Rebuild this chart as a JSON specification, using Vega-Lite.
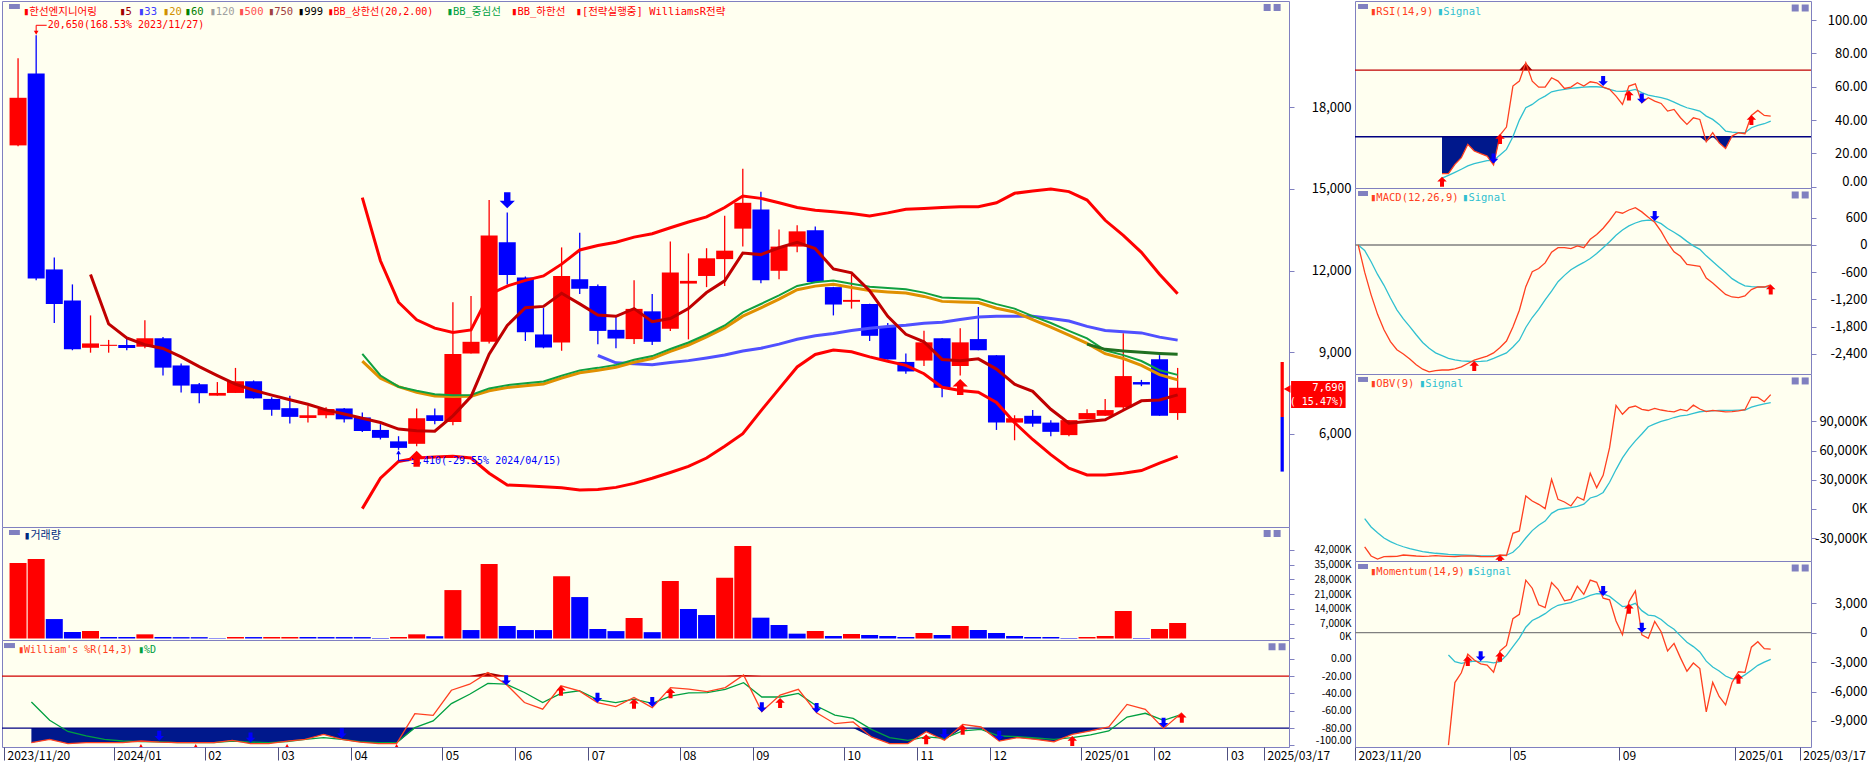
{
"$schema":"https://vega.github.io/schema/vega-lite/v6.json",
"background":"#ffffff",
"padding":0,
"config":{"view":{"fill":"#fffff0","stroke":"#8080c0","strokeWidth":1},"axis":{"titleOpacity":0,"domain":false,"grid":false}},
"datasets":{
"d":[
{"i":0,"o":16600,"h":19800,"l":16570,"c":18350,"dir":"up","v":35700,"vd":"up","macd":0,"ms":0},
{"i":1,"o":19240,"h":20650,"l":11640,"c":11710,"dir":"down","v":37600,"vd":"up","wr":-96.9,"wd":-50,"wf":-96.9,"wt":-20,"macd":-600,"ms":-120,"obv":-39000,"os":-10000},
{"i":2,"o":12040,"h":12480,"l":10070,"c":10770,"dir":"down","v":9200,"vd":"down","wr":-93.1,"wd":-71,"wf":-93.1,"wt":-20,"macd":-1100,"ms":-370,"obv":-48300,"os":-18500},
{"i":3,"o":10900,"h":11490,"l":9070,"c":9110,"dir":"down","v":3100,"vd":"down","wr":-98,"wd":-84,"wf":-98,"wt":-20,"macd":-1530,"ms":-650,"obv":-51500,"os":-24500},
{"i":4,"o":9160,"h":10350,"l":8980,"c":9320,"dir":"up","v":3550,"vd":"up","m5":11853,"wr":-96.9,"wd":-89,"wf":-96.9,"wt":-20,"macd":-1870,"ms":-890,"obv":-49000,"os":-29800},
{"i":5,"o":9230,"h":9450,"l":8980,"c":9270,"dir":"up","v":700,"vd":"down","m5":10037,"wr":-96.9,"wd":-93,"wf":-96.9,"wt":-20,"macd":-2130,"ms":-1170,"obv":-48800,"os":-33500},
{"i":6,"o":9260,"h":9510,"l":9070,"c":9150,"dir":"down","v":700,"vd":"down","m5":9525,"wr":-96.9,"wd":-95,"wf":-96.9,"wt":-20,"macd":-2310,"ms":-1430,"obv":-48600,"os":-36500},
{"i":7,"o":9200,"h":10170,"l":9140,"c":9510,"dir":"up","v":1970,"vd":"up","m5":9272,"wr":-95,"wd":-95.8,"wf":-95,"wt":-20,"macd":-2405,"ms":-1630,"obv":-47300,"os":-38800},
{"i":8,"o":9510,"h":9560,"l":8140,"c":8430,"dir":"down","v":700,"vd":"down","m5":9135,"wr":-96.2,"wd":-96,"wf":-96.2,"wt":-20,"macd":-2515,"ms":-1800,"obv":-47800,"os":-40800},
{"i":9,"o":8510,"h":8580,"l":7520,"c":7770,"dir":"down","v":650,"vd":"down","m5":8825,"wr":-96.9,"wd":-96.9,"wf":-96.9,"wt":-20,"macd":-2640,"ms":-1980,"obv":-48300,"os":-42300},
{"i":10,"o":7820,"h":7870,"l":7120,"c":7490,"dir":"down","v":640,"vd":"down","m5":8469,"wr":-96.9,"wd":-96.9,"wf":-96.9,"wt":-20,"macd":-2740,"ms":-2150,"obv":-48600,"os":-43700},
{"i":11,"o":7400,"h":7900,"l":7400,"c":7500,"dir":"up","v":200,"vd":"down","m5":8139,"wr":-96.9,"wd":-96.9,"wf":-96.9,"wt":-20,"macd":-2800,"ms":-2280,"obv":-48500,"os":-44700},
{"i":12,"o":7500,"h":8420,"l":7500,"c":7930,"dir":"up","v":700,"vd":"up","m5":7824,"wr":-94.2,"wd":-95,"wf":-94.2,"wt":-20,"macd":-2770,"ms":-2380,"obv":-48000,"os":-45500},
{"i":13,"o":7930,"h":7960,"l":7290,"c":7300,"dir":"down","v":680,"vd":"down","m5":7599,"wr":-98,"wd":-96.2,"wf":-98,"wt":-20,"rsi":7.8,"rs":5.2,"rf":7.8,"rt":70,"macd":-2758,"ms":-2440,"obv":-48400,"os":-46000},
{"i":14,"o":7280,"h":7340,"l":6660,"c":6880,"dir":"down","v":700,"vd":"up","m5":7420,"wr":-98,"wd":-96.9,"wf":-98,"wt":-20,"rsi":7.8,"rs":6.8,"rf":7.8,"rt":70,"macd":-2758,"ms":-2500,"obv":-48700,"os":-46600,"mom":-11470,"mos":-2276},
{"i":15,"o":6940,"h":7400,"l":6380,"c":6620,"dir":"down","v":720,"vd":"up","m5":7247,"wr":-95,"wd":-95.8,"wf":-95,"wt":-20,"rsi":13.4,"rs":8.6,"rf":13.4,"rt":70,"macd":-2735,"ms":-2535,"obv":-48900,"os":-47000,"mom":-5090,"mos":-2950},
{"i":16,"o":6580,"h":7030,"l":6410,"c":6680,"dir":"up","v":700,"vd":"down","m5":7083,"wr":-93.1,"wd":-93.1,"wf":-93.1,"wt":-20,"rsi":17.4,"rs":10.5,"rf":17.4,"rt":70,"macd":-2690,"ms":-2555,"obv":-48500,"os":-47300,"mom":-4090,"mos":-3120},
{"i":17,"o":6680,"h":6970,"l":6570,"c":6910,"dir":"up","v":690,"vd":"down","m5":6878,"wr":-87.3,"wd":-91,"wf":-87.3,"wt":-20,"rsi":25.4,"rs":12.5,"rf":25.4,"rt":70,"macd":-2615,"ms":-2565,"obv":-48100,"os":-47500,"mom":-2200,"mos":-3000},
{"i":18,"o":6930,"h":6950,"l":6410,"c":6530,"dir":"down","v":680,"vd":"down","m5":6724,"wr":-93.1,"wd":-93.1,"wf":-93.1,"wt":-20,"rsi":21.4,"rs":13.9,"rf":21.4,"rt":70,"macd":-2540,"ms":-2572,"obv":-48500,"os":-47800,"mom":-2790,"mos":-2900},
{"i":19,"o":6600,"h":6780,"l":6060,"c":6100,"dir":"down","v":670,"vd":"down","m5":6568,"m20":8667,"bb":8940,"bu":14678,"bl":3248,"wr":-96.2,"wd":-95.8,"wf":-96.2,"wt":-20,"rsi":19.8,"rs":14.8,"rf":19.8,"rt":70,"macd":-2495,"ms":-2566,"obv":-48800,"os":-48100,"mom":-3170,"mos":-2950},
{"i":20,"o":6140,"h":6350,"l":5790,"c":5850,"dir":"down","v":250,"vd":"down","m5":6414,"m20":8042,"bb":8142,"bu":12359,"bl":4364,"wr":-98,"wd":-96.9,"wf":-98,"wt":-20,"rsi":18.4,"rs":15.6,"rf":18.4,"rt":70,"macd":-2450,"ms":-2555,"obv":-48900,"os":-48300,"mom":-3300,"mos":-2980},
{"i":21,"o":5720,"h":5910,"l":5410,"c":5480,"dir":"down","v":700,"vd":"up","m5":6173,"m20":7730,"bb":7730,"bu":10835,"bl":4983,"wr":-98,"wd":-96.9,"wf":-98,"wt":-20,"rsi":13,"rs":15.8,"rf":13,"rt":70,"macd":-2380,"ms":-2500,"obv":-49000,"os":-48300,"mom":-4030,"mos":-3080},
{"i":22,"o":5630,"h":6930,"l":5540,"c":6570,"dir":"up","v":1970,"vd":"up","m5":6106,"m20":7520,"bb":7582,"bu":10190,"bl":5107,"wr":-63.4,"wd":-79.6,"wf":-80,"wt":-20,"rsi":31,"rs":19,"rf":30,"rt":70,"macd":-2260,"ms":-2440,"obv":-47300,"os":-48250,"mom":-1860,"mos":-2960},
{"i":23,"o":6680,"h":6930,"l":6350,"c":6470,"dir":"down","v":1100,"vd":"down","m5":6093,"m20":7388,"bb":7451,"bu":9880,"bl":5144,"wr":-65.3,"wd":-71.8,"wf":-80,"wt":-20,"rsi":35.8,"rs":22.4,"rf":30,"rt":70,"macd":-2120,"ms":-2380,"obv":-47800,"os":-47500,"mom":-1300,"mos":-2320},
{"i":24,"o":6430,"h":10830,"l":6310,"c":8930,"dir":"up","v":22900,"vd":"up","m5":6659,"m20":7368,"bb":7418,"bu":9719,"bl":5169,"wr":-36.4,"wd":-51.8,"wf":-80,"wt":-20,"rsi":60.4,"rs":30,"rf":30,"rt":70,"macd":-1810,"ms":-2250,"obv":-25000,"os":-44500,"mom":1440,"mos":-1420},
{"i":25,"o":8950,"h":11060,"l":8950,"c":9380,"dir":"up","v":4000,"vd":"down","m5":7365,"m20":7374,"bb":7424,"bu":9818,"bl":5107,"wr":-29.4,"wd":-41,"wf":-80,"wt":-20,"rsi":63.4,"rs":40,"rf":30,"rt":70,"macd":-1440,"ms":-2100,"obv":-22600,"os":-38200,"mom":1880,"mos":-550},
{"i":26,"o":9380,"h":14590,"l":9320,"c":13290,"dir":"up","v":35200,"vd":"up","m5":8928,"m20":7581,"bb":7667,"bu":11120,"bl":4549,"wr":-16,"wd":-28.5,"wf":-80,"wt":-16,"rsi":74.4,"rs":47.4,"rf":30,"rt":74.4,"macd":-920,"ms":-1820,"obv":13360,"os":-29800,"mom":5360,"mos":560},
{"i":27,"o":13040,"h":14130,"l":11490,"c":11840,"dir":"down","v":5900,"vd":"down","m5":9981,"m20":7697,"bb":7787,"bu":11430,"bl":4115,"wr":-29.4,"wd":-29.4,"wf":-80,"wt":-20,"rsi":63.4,"rs":49.4,"rf":30,"rt":70,"macd":-590,"ms":-1600,"obv":8220,"os":-22200,"mom":4540,"mos":1250},
{"i":28,"o":11740,"h":11780,"l":9410,"c":9730,"dir":"down","v":4000,"vd":"down","m5":10633,"m20":7762,"bb":7852,"bu":11640,"bl":4090,"wr":-50.6,"wd":-39,"wf":-80,"wt":-20,"rsi":59.8,"rs":52.4,"rf":30,"rt":70,"macd":-520,"ms":-1420,"obv":4790,"os":-16700,"mom":2850,"mos":1570},
{"i":29,"o":9650,"h":10620,"l":9140,"c":9170,"dir":"down","v":3990,"vd":"down","m5":10682,"m20":7832,"bb":7922,"bu":11801,"bl":4053,"wr":-58.3,"wd":-50.6,"wf":-80,"wt":-20,"rsi":59.8,"rs":54.4,"rf":30,"rt":70,"macd":-395,"ms":-1210,"obv":340,"os":-12400,"mom":2550,"mos":1940},
{"i":30,"o":9350,"h":12850,"l":9050,"c":11800,"dir":"up","v":29500,"vd":"up","m5":11166,"m20":8048,"bb":8138,"bu":12235,"bl":4016,"wr":-31.3,"wd":-40,"wf":-80,"wt":-20,"rsi":65.4,"rs":57,"rf":30,"rt":70,"macd":-160,"ms":-1020,"obv":30480,"os":-4500,"mom":5120,"mos":2440},
{"i":31,"o":11680,"h":13390,"l":11140,"c":11330,"dir":"down","v":19600,"vd":"down","m5":10774,"m20":8240,"bb":8330,"bu":12756,"bl":3929,"wr":-37.1,"wd":-37,"wf":-80,"wt":-20,"rsi":63.4,"rs":57.8,"rf":30,"rt":70,"macd":-60,"ms":-810,"obv":9930,"os":-700,"mom":4430,"mos":2800},
{"i":32,"o":11430,"h":11490,"l":9290,"c":9780,"dir":"down","v":4500,"vd":"down","m5":10363,"m20":8332,"bb":8422,"m33":8877,"bu":12917,"bl":3954,"wr":-50.6,"wd":-47.3,"wf":-80,"wt":-20,"rsi":59,"rs":58.4,"rf":30,"rt":70,"macd":-59,"ms":-670,"obv":7190,"os":500,"mom":3250,"mos":2940},
{"i":33,"o":9820,"h":10310,"l":9140,"c":9500,"dir":"down","v":3500,"vd":"down","m5":10316,"m20":8442,"bb":8532,"m33":8609,"bu":13041,"bl":4028,"wr":-55.2,"wd":-50.6,"wf":-80,"wt":-20,"rsi":59.8,"rs":59,"rf":30,"rt":70,"macd":-80,"ms":-545,"obv":3080,"os":1300,"mom":3400,"mos":3080},
{"i":34,"o":9480,"h":11640,"l":9300,"c":10590,"dir":"up","v":9700,"vd":"up","m5":10599,"m20":8627,"bb":8717,"m33":8575,"bu":13227,"bl":4177,"wr":-44.8,"wd":-46.6,"wf":-80,"wt":-20,"rsi":62.4,"rs":59.4,"rf":30,"rt":70,"macd":-20,"ms":-460,"obv":12330,"os":2600,"mom":4740,"mos":3310},
{"i":35,"o":10500,"h":11140,"l":9260,"c":9380,"dir":"down","v":3000,"vd":"down","m5":10116,"m20":8765,"bb":8855,"m33":8533,"bu":13351,"bl":4364,"wr":-56.4,"wd":-51.6,"wf":-80,"wt":-20,"rsi":60.4,"rs":59.8,"rf":30,"rt":70,"macd":-59,"ms":-385,"obv":9250,"os":5000,"mom":3910,"mos":3530},
{"i":36,"o":9860,"h":13070,"l":9780,"c":11930,"dir":"up","v":27200,"vd":"up","m5":10235,"m20":9027,"bb":9117,"m33":8618,"bu":13574,"bl":4574,"wr":-33.3,"wd":-43.3,"wf":-80,"wt":-20,"rsi":63,"rs":60,"rf":30,"rt":70,"macd":125,"ms":-300,"obv":36640,"os":11300,"mom":5360,"mos":3800},
{"i":37,"o":11520,"h":12630,"l":9470,"c":11620,"dir":"up","v":13950,"vd":"down","m5":10601,"m20":9263,"bb":9353,"m33":8688,"bu":13785,"bl":4797,"wr":-35,"wd":-39.5,"wf":-80,"wt":-20,"rsi":62.4,"rs":60,"rf":30,"rt":70,"macd":230,"ms":-190,"obv":21920,"os":13100,"mom":5140,"mos":3980},
{"i":38,"o":11800,"h":12820,"l":11390,"c":12450,"dir":"up","v":11100,"vd":"down","m5":11191,"m20":9558,"bb":9648,"m33":8784,"bu":13971,"bl":5107,"wr":-37.9,"wd":-39.2,"wf":-80,"wt":-20,"rsi":59.8,"rs":59.6,"rf":30,"rt":70,"macd":370,"ms":-60,"obv":34590,"os":17000,"mom":3520,"mos":3950},
{"i":39,"o":12420,"h":14010,"l":11430,"c":12730,"dir":"up","v":28770,"vd":"up","m5":11620,"m20":9890,"bb":9980,"m33":8892,"bu":14318,"bl":5541,"wr":-33.4,"wd":-35.3,"wf":-80,"wt":-20,"rsi":58.5,"rs":58.5,"rf":30,"rt":70,"macd":540,"ms":70,"obv":63010,"os":27500,"mom":3350,"mos":3700},
{"i":40,"o":13540,"h":15740,"l":12880,"c":14490,"dir":"up","v":43750,"vd":"up","m5":12642,"m20":10322,"bb":10462,"m33":9043,"bu":14740,"bl":6000,"wr":-18.8,"wd":-27.6,"wf":-80,"wt":-18.8,"rsi":54.4,"rs":57.4,"rf":30,"rt":70,"macd":735,"ms":215,"obv":106500,"os":40500,"mom":1200,"mos":3180},
{"i":41,"o":14240,"h":14900,"l":11530,"c":11640,"dir":"down","v":9850,"vd":"down","m5":12585,"m20":10630,"bb":10770,"m33":9141,"bu":14653,"bl":6843,"wr":-61.1,"wd":-44.2,"wf":-80,"wt":-20,"rsi":49.4,"rs":57.2,"rf":30,"rt":70,"macd":700,"ms":330,"obv":97270,"os":52500,"mom":-200,"mos":2660},
{"i":42,"o":11990,"h":13510,"l":11680,"c":12880,"dir":"up","v":6390,"vd":"down","m5":12838,"m20":10946,"bb":11086,"m33":9296,"bu":14492,"bl":7649,"wr":-41.9,"wd":-44.2,"wf":-80,"wt":-20,"rsi":60.4,"rs":57.6,"rf":30,"rt":70,"macd":772,"ms":420,"obv":104100,"os":62000,"mom":3150,"mos":2730},
{"i":43,"o":12880,"h":13660,"l":12670,"c":13440,"dir":"up","v":2290,"vd":"down","m5":13036,"m20":11294,"bb":11434,"m33":9476,"bu":14318,"bl":8454,"wr":-35.3,"wd":-40,"wf":-80,"wt":-20,"rsi":61.8,"rs":58.4,"rf":30,"rt":70,"macd":824,"ms":485,"obv":105800,"os":70000,"mom":4260,"mos":3000},
{"i":44,"o":13480,"h":13620,"l":11580,"c":11580,"dir":"down","v":3550,"vd":"up","m5":12805,"m20":11427,"bb":11567,"m33":9599,"bu":14219,"bl":8913,"wr":-62.3,"wd":-54.6,"wf":-80,"wt":-20,"rsi":50.4,"rs":56.5,"rf":30,"rt":70,"macd":730,"ms":530,"obv":102400,"os":77000,"mom":-220,"mos":2250},
{"i":45,"o":11390,"h":11400,"l":10350,"c":10750,"dir":"down","v":1180,"vd":"down","m5":12057,"m20":11495,"bb":11635,"m33":9685,"bu":14157,"bl":9074,"wr":-75,"wd":-65,"wf":-80,"wt":-20,"rsi":53.4,"rs":55,"rf":30,"rt":70,"macd":610,"ms":548,"obv":101200,"os":84500,"mom":-580,"mos":1800},
{"i":46,"o":10850,"h":11860,"l":10600,"c":10920,"dir":"up","v":2130,"vd":"up","m5":11913,"m20":11377,"bb":11517,"m33":9794,"bu":14095,"bl":9012,"wr":-73,"wd":-68.8,"wf":-80,"wt":-20,"rsi":51.4,"rs":54.2,"rf":30,"rt":70,"macd":500,"ms":530,"obv":103400,"os":87500,"mom":1140,"mos":1710},
{"i":47,"o":10770,"h":10780,"l":9410,"c":9600,"dir":"down","v":1660,"vd":"down","m5":11256,"m20":11264,"bb":11404,"m33":9877,"bu":14008,"bl":8826,"wr":-90.3,"wd":-81.5,"wf":-90.3,"wt":-20,"rsi":50,"rs":53.5,"rf":30,"rt":70,"macd":300,"ms":470,"obv":101700,"os":90000,"mom":100,"mos":1350},
{"i":48,"o":9940,"h":10070,"l":8730,"c":8730,"dir":"down","v":1180,"vd":"down","m5":10314,"m20":11214,"bb":11354,"m33":9940,"bu":14120,"bl":8665,"wr":-98,"wd":-91.1,"wf":-98,"wt":-20,"rsi":45.4,"rs":52.4,"rf":30,"rt":70,"macd":50,"ms":365,"obv":100500,"os":91700,"mom":-1860,"mos":780},
{"i":49,"o":8640,"h":8950,"l":8210,"c":8290,"dir":"down","v":710,"vd":"down","m5":9657,"m20":11170,"bb":11310,"m33":9989,"bu":14256,"bl":8516,"wr":-98,"wd":-94.2,"wf":-98,"wt":-20,"rsi":46.4,"rs":50.8,"rf":30,"rt":70,"macd":-150,"ms":280,"obv":99800,"os":94000,"mom":-1090,"mos":350},
{"i":50,"o":8690,"h":9790,"l":8490,"c":9360,"dir":"up","v":2600,"vd":"up","m5":9379,"m20":11048,"bb":11188,"m33":10064,"bu":14281,"bl":8206,"wr":-84.2,"wd":-90.3,"wf":-84.2,"wt":-20,"rsi":41.4,"rs":49,"rf":30,"rt":70,"macd":-250,"ms":190,"obv":102400,"os":95600,"mom":-2570,"mos":-320},
{"i":51,"o":9510,"h":9520,"l":7340,"c":7690,"dir":"down","v":1660,"vd":"down","m5":8732,"m20":10866,"bb":11006,"m33":10099,"bu":14318,"bl":7710,"wr":-94.2,"wd":-91.9,"wf":-94.2,"wt":-20,"rsi":37.4,"rs":47.4,"rf":30,"rt":70,"macd":-430,"ms":80,"obv":100800,"os":96500,"mom":-3930,"mos":-970},
{"i":52,"o":8490,"h":9880,"l":8140,"c":9360,"dir":"up","v":5910,"vd":"up","m5":8685,"m20":10845,"bb":10985,"m33":10197,"bu":14343,"bl":7587,"wr":-75.8,"wd":-83.4,"wf":-80,"wt":-20,"rsi":41.4,"rs":46.4,"rf":30,"rt":70,"macd":-450,"ms":-20,"obv":106700,"os":98300,"mom":-3090,"mos":-1420},
{"i":53,"o":9480,"h":10660,"l":9070,"c":9070,"dir":"down","v":4020,"vd":"down","m5":8754,"m20":10824,"bb":10964,"m33":10295,"bu":14343,"bl":7524,"wr":-78.8,"wd":-81.5,"wf":-80,"wt":-20,"rsi":40.4,"rs":45.4,"rf":30,"rt":70,"macd":-470,"ms":-96,"obv":102700,"os":99900,"mom":-3660,"mos":-1960},
{"i":54,"o":8890,"h":8890,"l":6140,"c":6410,"dir":"down","v":2600,"vd":"down","m5":8377,"m20":10615,"bb":10765,"m33":10323,"bu":14492,"bl":7152,"wr":-95,"wd":-89.2,"wf":-95,"wt":-20,"rsi":27,"rs":42.4,"rf":27,"rt":70,"macd":-730,"ms":-240,"obv":100100,"os":100600,"mom":-8080,"mos":-2900},
{"i":55,"o":6410,"h":6680,"l":5760,"c":6570,"dir":"up","v":1180,"vd":"down","m5":7820,"m20":10474,"bb":10599,"m33":10323,"bu":14839,"bl":6409,"wr":-91.1,"wd":-90,"wf":-91.1,"wt":-20,"rsi":32.4,"rs":40.4,"rf":30,"rt":70,"macd":-840,"ms":-365,"obv":101300,"os":100900,"mom":-5070,"mos":-3500},
{"i":56,"o":6660,"h":6870,"l":6260,"c":6370,"dir":"down","v":710,"vd":"down","m5":7557,"m20":10197,"bb":10322,"m33":10320,"bu":14926,"bl":5789,"wr":-93.1,"wd":-91.5,"wf":-93.1,"wt":-20,"rsi":26.4,"rs":37.4,"rf":26.4,"rt":70,"macd":-965,"ms":-490,"obv":100500,"os":101360,"mom":-6510,"mos":-3900},
{"i":57,"o":6410,"h":6500,"l":5910,"c":6070,"dir":"down","v":700,"vd":"down","m5":6900,"m20":9920,"bb":10070,"m33":10234,"bu":15000,"bl":5231,"wr":-95.8,"wd":-93.1,"wf":-95.8,"wt":-20,"rsi":23,"rs":33.4,"rf":23,"rt":70,"macd":-1090,"ms":-615,"obv":99800,"os":101360,"mom":-7360,"mos":-4420},
{"i":58,"o":5950,"h":6500,"l":5910,"c":6500,"dir":"up","v":240,"vd":"down","m5":6384,"m20":9622,"bb":9782,"m33":10146,"bu":14901,"bl":4735,"wr":-87.3,"wd":-91.1,"wf":-87.3,"wt":-20,"rsi":30.4,"rs":32.8,"rf":30,"rt":70,"macd":-1147,"ms":-743,"obv":100100,"os":101360,"mom":-5080,"mos":-4720},
{"i":59,"o":6530,"h":6900,"l":6530,"c":6760,"dir":"up","v":710,"vd":"up","m5":6454,"m20":9323,"bb":9508,"m33":9948,"m60":9293,"bu":14591,"bl":4487,"wr":-83.4,"wd":-88,"wf":-83.4,"wt":-20,"rsi":32.4,"rs":32.4,"rf":30,"rt":70,"macd":-1162,"ms":-830,"obv":100800,"os":101500,"mom":-3990,"mos":-4700},
{"i":60,"o":6660,"h":7280,"l":6660,"c":6870,"dir":"up","v":1180,"vd":"up","m5":6513,"m20":8942,"bb":9067,"m33":9798,"m60":9102,"bu":13847,"bl":4487,"wr":-78.8,"wd":-83.4,"wf":-80,"wt":-20,"rsi":31.8,"rs":32.4,"rf":30,"rt":70,"macd":-1125,"ms":-900,"obv":102000,"os":101700,"mom":-4050,"mos":-4300},
{"i":61,"o":6970,"h":9690,"l":6900,"c":8120,"dir":"up","v":13000,"vd":"up","m5":6863,"m20":8766,"bb":8891,"m33":9749,"m60":9042,"bu":13289,"bl":4549,"wr":-52.7,"wd":-67.3,"wf":-80,"wt":-20,"rsi":42.8,"rs":35.4,"rf":30,"rt":70,"macd":-985,"ms":-918,"obv":115000,"os":104600,"mom":-1480,"mos":-3830},
{"i":62,"o":7900,"h":7980,"l":7750,"c":7810,"dir":"down","v":240,"vd":"down","m5":7210,"m20":8513,"bb":8673,"m33":9708,"m60":8993,"bu":12669,"bl":4648,"wr":-58.5,"wd":-63,"wf":-80,"wt":-20,"rsi":45.8,"rs":36.8,"rf":30,"rt":70,"macd":-927,"ms":-927,"obv":114700,"os":106500,"mom":-920,"mos":-3330},
{"i":63,"o":8740,"h":8890,"l":6660,"c":6660,"dir":"down","v":4490,"vd":"up","m5":7243,"m20":8174,"bb":8334,"m33":9552,"m60":8952,"bu":11864,"bl":4921,"wr":-80.4,"wd":-71.1,"wf":-80.4,"wt":-20,"rsi":42.8,"rs":37.8,"rf":30,"rt":70,"macd":-927,"ms":-927,"obv":110200,"os":108000,"mom":-1630,"mos":-3010},
{"i":64,"o":6760,"h":8420,"l":6510,"c":7690,"dir":"up","v":7330,"vd":"up","m5":7430,"m20":7979,"bb":8164,"m33":9442,"m60":8925,"bu":11144,"bl":5169,"wr":-62.3,"wd":-64.2,"wf":-80,"wt":-20,"rsi":42.4,"rs":39.4,"rf":30,"rt":70,"macd":-882,"ms":-920,"obv":117500,"os":109250,"mom":-1670,"mos":-2714}
],
"sp":[{"i":27,"y":14580,"s":"down"},{"i":22,"y":5080,"s":"up"},{"i":52,"y":7720,"s":"up"}],
"sw":[{"i":27,"y":-25,"s":"down"},{"i":30,"y":-37,"s":"up"},{"i":32,"y":-45,"s":"down"},{"i":34,"y":-52,"s":"up"},{"i":35,"y":-50,"s":"down"},{"i":36,"y":-40,"s":"up"},{"i":41,"y":-56,"s":"down"},{"i":42,"y":-51,"s":"up"},{"i":44,"y":-57,"s":"down"},{"i":50,"y":-93,"s":"up"},{"i":51,"y":-87,"s":"down"},{"i":52,"y":-82,"s":"up"},{"i":54,"y":-89,"s":"down"},{"i":58,"y":-95,"s":"up"},{"i":63,"y":-74,"s":"down"},{"i":64,"y":-68,"s":"up"},{"i":8,"y":-89,"s":"down"},{"i":13,"y":-91,"s":"down"},{"i":18,"y":-86,"s":"down"}],
"swt":[{"i":7,"y":-101},{"i":10,"y":-101},{"i":15,"y":-101},{"i":21,"y":-101}],
"sr":[{"i":13,"y":3,"s":"up"},{"i":22,"y":28.6,"s":"up"},{"i":38,"y":63.5,"s":"down"},{"i":42,"y":54.8,"s":"up"},{"i":44,"y":53,"s":"down"},{"i":61,"y":40,"s":"up"},{"i":21,"y":17,"s":"down"}],
"sm":[{"i":18,"y":-2670,"s":"up"},{"i":46,"y":640,"s":"down"},{"i":64,"y":-980,"s":"up"}],
"so":[{"i":22,"y":-52500,"s":"up"}],
"sn":[{"i":17,"y":-2890,"s":"up"},{"i":19,"y":-2400,"s":"down"},{"i":22,"y":-2450,"s":"up"},{"i":38,"y":4250,"s":"down"},{"i":42,"y":2450,"s":"up"},{"i":44,"y":510,"s":"down"},{"i":59,"y":-4700,"s":"up"}]
},
"spacing":0,
"hconcat":[
{"spacing":0,"bounds":"flush","vconcat":[
{"width":1287,"height":526,"layer":[
{"data":{"name":"d"},"mark":{"type":"rule","strokeWidth":1.3},"encoding":{"x":{"field":"i","type":"quantitative","scale":{"domain":[-0.61,69.87],"nice":false,"zero":false},"axis":null},"y":{"field":"l","type":"quantitative","scale":{"domain":[2572,21908],"nice":false,"zero":false},"title":null,"axis":{"orient":"right","title":null,"values":[6000,9000,12000,15000,18000],"tickCount":50,"labelExpr":"format(datum.value, ',')","tickSize":5,"tickColor":"#8080c0","labelAlign":"right","labelPadding":57,"labelFont":"Noto Sans CJK KR","labelFontSize":13,"labelColor":"#000000","domain":false,"grid":false,"labelFlush":3,"labelFlushOffset":2,"labelOverlap":false,"labelBound":false,"minExtent":63,"maxExtent":63}},"y2":{"field":"h"},"color":{"field":"dir","type":"nominal","scale":{"domain":["up","down"],"range":["#ff0000","#0000ff"]},"legend":null}}},
{"data":{"name":"d"},"mark":{"type":"bar"},"encoding":{"x":{"field":"i","type":"quantitative","scale":{"domain":[-0.61,69.87],"nice":false,"zero":false},"axis":null},"y":{"field":"o","type":"quantitative","scale":{"domain":[2572,21908],"nice":false,"zero":false},"title":null},"y2":{"field":"c"},"size":{"value":17},"color":{"field":"dir","type":"nominal","scale":{"domain":["up","down"],"range":["#ff0000","#0000ff"]},"legend":null}}},
{"data":{"name":"d"},"mark":{"type":"line","color":"#ff0000","strokeWidth":3},"encoding":{"x":{"field":"i","type":"quantitative","scale":{"domain":[-0.61,69.87],"nice":false,"zero":false},"axis":null},"y":{"field":"bu","type":"quantitative","scale":{"domain":[2572,21908],"nice":false,"zero":false},"title":null}}},
{"data":{"name":"d"},"mark":{"type":"line","color":"#ff0000","strokeWidth":3},"encoding":{"x":{"field":"i","type":"quantitative","scale":{"domain":[-0.61,69.87],"nice":false,"zero":false},"axis":null},"y":{"field":"bl","type":"quantitative","scale":{"domain":[2572,21908],"nice":false,"zero":false},"title":null}}},
{"data":{"name":"d"},"mark":{"type":"line","color":"#5050ff","strokeWidth":3},"encoding":{"x":{"field":"i","type":"quantitative","scale":{"domain":[-0.61,69.87],"nice":false,"zero":false},"axis":null},"y":{"field":"m33","type":"quantitative","scale":{"domain":[2572,21908],"nice":false,"zero":false},"title":null}}},
{"data":{"name":"d"},"mark":{"type":"line","color":"#e09000","strokeWidth":3},"encoding":{"x":{"field":"i","type":"quantitative","scale":{"domain":[-0.61,69.87],"nice":false,"zero":false},"axis":null},"y":{"field":"m20","type":"quantitative","scale":{"domain":[2572,21908],"nice":false,"zero":false},"title":null}}},
{"data":{"name":"d"},"mark":{"type":"line","color":"#10a040","strokeWidth":2},"encoding":{"x":{"field":"i","type":"quantitative","scale":{"domain":[-0.61,69.87],"nice":false,"zero":false},"axis":null},"y":{"field":"bb","type":"quantitative","scale":{"domain":[2572,21908],"nice":false,"zero":false},"title":null}}},
{"data":{"name":"d"},"mark":{"type":"line","color":"#207020","strokeWidth":3},"encoding":{"x":{"field":"i","type":"quantitative","scale":{"domain":[-0.61,69.87],"nice":false,"zero":false},"axis":null},"y":{"field":"m60","type":"quantitative","scale":{"domain":[2572,21908],"nice":false,"zero":false},"title":null}}},
{"data":{"name":"d"},"mark":{"type":"line","color":"#c00000","strokeWidth":3},"encoding":{"x":{"field":"i","type":"quantitative","scale":{"domain":[-0.61,69.87],"nice":false,"zero":false},"axis":null},"y":{"field":"m5","type":"quantitative","scale":{"domain":[2572,21908],"nice":false,"zero":false},"title":null}}},
{"data":{"values":[{}]},"mark":{"type":"rule","color":"#ff0000"},"encoding":{"x":{"datum":1,"scale":{"domain":[-0.61,69.87]},"axis":null},"x2":{"datum":1.58},"y":{"datum":21015,"scale":{"domain":[2572,21908]}}}},
{"data":{"values":[{}]},"mark":{"type":"rule","color":"#ff0000"},"encoding":{"x":{"datum":1,"scale":{"domain":[-0.61,69.87]},"axis":null},"y":{"datum":21015,"scale":{"domain":[2572,21908]}},"y2":{"datum":20780}}},
{"data":{"values":[{}]},"mark":{"type":"point","shape":"triangle-down","filled":true,"opacity":1,"size":22,"color":"#ff0000"},"encoding":{"x":{"datum":1,"scale":{"domain":[-0.61,69.87]},"axis":null},"y":{"datum":20740,"scale":{"domain":[2572,21908]}}}},
{"data":{"values":[{}]},"mark":{"type":"text","align":"left","baseline":"middle","font":"DejaVu Sans Mono","fontSize":10,"color":"#ff0000","text":"20,650(168.53% 2023/11/27)"},"encoding":{"x":{"datum":1.64,"scale":{"domain":[-0.61,69.87]},"axis":null},"y":{"datum":21015,"scale":{"domain":[2572,21908]}}}},
{"data":{"values":[{}]},"mark":{"type":"point","shape":"triangle-up","filled":true,"opacity":1,"size":22,"color":"#0000ff"},"encoding":{"x":{"datum":21,"scale":{"domain":[-0.61,69.87]},"axis":null},"y":{"datum":5320,"scale":{"domain":[2572,21908]}}}},
{"data":{"values":[{}]},"mark":{"type":"rule","color":"#0000ff"},"encoding":{"x":{"datum":21,"scale":{"domain":[-0.61,69.87]},"axis":null},"y":{"datum":5300,"scale":{"domain":[2572,21908]}},"y2":{"datum":5010}}},
{"data":{"values":[{}]},"mark":{"type":"rule","color":"#0000ff"},"encoding":{"x":{"datum":21,"scale":{"domain":[-0.61,69.87]},"axis":null},"x2":{"datum":21.6},"y":{"datum":5010,"scale":{"domain":[2572,21908]}}}},
{"data":{"values":[{}]},"mark":{"type":"text","align":"left","baseline":"middle","font":"DejaVu Sans Mono","fontSize":10,"color":"#0000ff","text":"5,410(-29.55% 2024/04/15)"},"encoding":{"x":{"datum":21.68,"scale":{"domain":[-0.61,69.87]},"axis":null},"y":{"datum":5010,"scale":{"domain":[2572,21908]}}}},
{"data":{"name":"sp"},"mark":{"type":"point","filled":true,"opacity":1,"size":256,"strokeWidth":0},"encoding":{"x":{"field":"i","type":"quantitative","scale":{"domain":[-0.61,69.87],"nice":false,"zero":false},"axis":null},"y":{"field":"y","type":"quantitative","scale":{"domain":[2572,21908],"nice":false,"zero":false},"title":null},"shape":{"field":"s","type":"nominal","scale":{"domain":["up","down"],"range":["M0,-1L0.95,-0.05L0.4,-0.05L0.4,1L-0.4,1L-0.4,-0.05L-0.95,-0.05Z","M0,1L0.95,0.05L0.4,0.05L0.4,-1L-0.4,-1L-0.4,0.05L-0.95,0.05Z"]},"legend":null},"color":{"field":"s","type":"nominal","scale":{"domain":["up","down"],"range":["#ff0000","#0000ff"]},"legend":null}}},
{"data":{"values":[{}]},"mark":{"type":"rect","color":"#ff0000"},"encoding":{"x":{"datum":69.68,"scale":{"domain":[-0.61,69.87]},"axis":null},"x2":{"datum":69.86},"y":{"datum":8637,"scale":{"domain":[2572,21908]}},"y2":{"datum":6616}}},
{"data":{"values":[{}]},"mark":{"type":"rect","color":"#0000ff"},"encoding":{"x":{"datum":69.68,"scale":{"domain":[-0.61,69.87]},"axis":null},"x2":{"datum":69.86},"y":{"datum":6616,"scale":{"domain":[2572,21908]}},"y2":{"datum":4609}}},
{"data":{"values":[{}]},"mark":{"type":"point","shape":"triangle-left","filled":true,"opacity":1,"size":60,"color":"#ff0000"},"encoding":{"x":{"datum":70.04,"scale":{"domain":[-0.61,69.87]},"axis":null},"y":{"datum":7645,"scale":{"domain":[2572,21908]}}}},
{"data":{"values":[{}]},"mark":{"type":"rect","color":"#ff0000"},"encoding":{"x":{"datum":70.26,"scale":{"domain":[-0.61,69.87]},"axis":null},"x2":{"datum":73.27},"y":{"datum":7939,"scale":{"domain":[2572,21908]}},"y2":{"datum":6947}}},
{"data":{"values":[{}]},"mark":{"type":"text","align":"right","baseline":"middle","font":"DejaVu Sans Mono","fontSize":10.5,"color":"#ffffff","text":"7,690"},"encoding":{"x":{"datum":73.18,"scale":{"domain":[-0.61,69.87]},"axis":null},"y":{"datum":7682,"scale":{"domain":[2572,21908]}}}},
{"data":{"values":[{}]},"mark":{"type":"text","align":"right","baseline":"middle","font":"DejaVu Sans Mono","fontSize":10,"color":"#ffffff","text":"( 15.47%)"},"encoding":{"x":{"datum":73.18,"scale":{"domain":[-0.61,69.87]},"axis":null},"y":{"datum":7160,"scale":{"domain":[2572,21908]}}}},
{"data":{"values":[{}]},"mark":{"type":"rect","color":"#8080c0"},"encoding":{"x":{"datum":-0.5,"scale":{"domain":[-0.61,69.87]},"axis":null},"x2":{"datum":0.1},"y":{"datum":21798,"scale":{"domain":[2572,21908]}},"y2":{"datum":21614}}},
{"data":{"values":[{}]},"mark":{"type":"point","shape":"square","filled":true,"opacity":1,"size":49,"color":"#8080c0"},"encoding":{"x":{"datum":68.94,"scale":{"domain":[-0.61,69.87]},"axis":null},"y":{"datum":21669,"scale":{"domain":[2572,21908]}}}},
{"data":{"values":[{}]},"mark":{"type":"point","shape":"square","filled":true,"opacity":1,"size":49,"color":"#8080c0"},"encoding":{"x":{"datum":69.49,"scale":{"domain":[-0.61,69.87]},"axis":null},"y":{"datum":21669,"scale":{"domain":[2572,21908]}}}},
{"data":{"values":[{}]},"mark":{"type":"text","align":"left","baseline":"middle","font":"DejaVu Sans Mono, Noto Sans CJK KR","fontSize":10.5,"color":"#ff0000","text":"▮한선엔지니어링"},"encoding":{"x":{"datum":0.27,"scale":{"domain":[-0.61,69.87]},"axis":null},"y":{"datum":21504,"scale":{"domain":[2572,21908]}}}},
{"data":{"values":[{}]},"mark":{"type":"text","align":"left","baseline":"middle","font":"DejaVu Sans Mono, Noto Sans CJK KR","fontSize":10.5,"color":"#a00000","text":"▮5"},"encoding":{"x":{"datum":5.58,"scale":{"domain":[-0.61,69.87]},"axis":null},"y":{"datum":21504,"scale":{"domain":[2572,21908]}}}},
{"data":{"values":[{}]},"mark":{"type":"text","align":"left","baseline":"middle","font":"DejaVu Sans Mono, Noto Sans CJK KR","fontSize":10.5,"color":"#4040ff","text":"▮33"},"encoding":{"x":{"datum":6.62,"scale":{"domain":[-0.61,69.87]},"axis":null},"y":{"datum":21504,"scale":{"domain":[2572,21908]}}}},
{"data":{"values":[{}]},"mark":{"type":"text","align":"left","baseline":"middle","font":"DejaVu Sans Mono, Noto Sans CJK KR","fontSize":10.5,"color":"#d09000","text":"▮20"},"encoding":{"x":{"datum":7.99,"scale":{"domain":[-0.61,69.87]},"axis":null},"y":{"datum":21504,"scale":{"domain":[2572,21908]}}}},
{"data":{"values":[{}]},"mark":{"type":"text","align":"left","baseline":"middle","font":"DejaVu Sans Mono, Noto Sans CJK KR","fontSize":10.5,"color":"#008000","text":"▮60"},"encoding":{"x":{"datum":9.19,"scale":{"domain":[-0.61,69.87]},"axis":null},"y":{"datum":21504,"scale":{"domain":[2572,21908]}}}},
{"data":{"values":[{}]},"mark":{"type":"text","align":"left","baseline":"middle","font":"DejaVu Sans Mono, Noto Sans CJK KR","fontSize":10.5,"color":"#a0a0a0","text":"▮120"},"encoding":{"x":{"datum":10.56,"scale":{"domain":[-0.61,69.87]},"axis":null},"y":{"datum":21504,"scale":{"domain":[2572,21908]}}}},
{"data":{"values":[{}]},"mark":{"type":"text","align":"left","baseline":"middle","font":"DejaVu Sans Mono, Noto Sans CJK KR","fontSize":10.5,"color":"#ff5050","text":"▮500"},"encoding":{"x":{"datum":12.15,"scale":{"domain":[-0.61,69.87]},"axis":null},"y":{"datum":21504,"scale":{"domain":[2572,21908]}}}},
{"data":{"values":[{}]},"mark":{"type":"text","align":"left","baseline":"middle","font":"DejaVu Sans Mono, Noto Sans CJK KR","fontSize":10.5,"color":"#a04040","text":"▮750"},"encoding":{"x":{"datum":13.79,"scale":{"domain":[-0.61,69.87]},"axis":null},"y":{"datum":21504,"scale":{"domain":[2572,21908]}}}},
{"data":{"values":[{}]},"mark":{"type":"text","align":"left","baseline":"middle","font":"DejaVu Sans Mono, Noto Sans CJK KR","fontSize":10.5,"color":"#000000","text":"▮999"},"encoding":{"x":{"datum":15.44,"scale":{"domain":[-0.61,69.87]},"axis":null},"y":{"datum":21504,"scale":{"domain":[2572,21908]}}}},
{"data":{"values":[{}]},"mark":{"type":"text","align":"left","baseline":"middle","font":"DejaVu Sans Mono, Noto Sans CJK KR","fontSize":10,"color":"#ff0000","text":"▮BB_상한선(20,2.00)"},"encoding":{"x":{"datum":17.08,"scale":{"domain":[-0.61,69.87]},"axis":null},"y":{"datum":21504,"scale":{"domain":[2572,21908]}}}},
{"data":{"values":[{}]},"mark":{"type":"text","align":"left","baseline":"middle","font":"DejaVu Sans Mono, Noto Sans CJK KR","fontSize":10.5,"color":"#00a040","text":"▮BB_중심선"},"encoding":{"x":{"datum":23.65,"scale":{"domain":[-0.61,69.87]},"axis":null},"y":{"datum":21504,"scale":{"domain":[2572,21908]}}}},
{"data":{"values":[{}]},"mark":{"type":"text","align":"left","baseline":"middle","font":"DejaVu Sans Mono, Noto Sans CJK KR","fontSize":10.5,"color":"#ff0000","text":"▮BB_하한선"},"encoding":{"x":{"datum":27.21,"scale":{"domain":[-0.61,69.87]},"axis":null},"y":{"datum":21504,"scale":{"domain":[2572,21908]}}}},
{"data":{"values":[{}]},"mark":{"type":"text","align":"left","baseline":"middle","font":"DejaVu Sans Mono, Noto Sans CJK KR","fontSize":10.5,"color":"#ff0000","text":"▮[전략실행중] WilliamsR전략"},"encoding":{"x":{"datum":30.77,"scale":{"domain":[-0.61,69.87]},"axis":null},"y":{"datum":21504,"scale":{"domain":[2572,21908]}}}}
]},
{"width":1287,"height":113,"layer":[
{"data":{"name":"d"},"mark":{"type":"bar"},"encoding":{"x":{"field":"i","type":"quantitative","scale":{"domain":[-0.61,69.87],"nice":false,"zero":false},"axis":null},"y":{"field":"v","type":"quantitative","scale":{"domain":[-710,52740],"nice":false,"zero":false},"title":null,"axis":{"orient":"right","title":null,"values":[0,7000,14000,21000,28000,35000,42000],"tickCount":50,"labelExpr":"format(datum.value, ',') + 'K'","tickSize":5,"tickColor":"#8080c0","labelAlign":"right","labelPadding":57,"labelFont":"Noto Sans CJK KR","labelFontSize":10,"labelColor":"#000000","domain":false,"grid":false,"labelFlush":3,"labelFlushOffset":3,"labelOverlap":false,"labelBound":false,"minExtent":63,"maxExtent":63}},"y2":{"datum":0},"size":{"value":17},"color":{"field":"vd","type":"nominal","scale":{"domain":["up","down"],"range":["#ff0000","#0000ff"]},"legend":null}}},
{"data":{"values":[{}]},"mark":{"type":"rect","color":"#8080c0"},"encoding":{"x":{"datum":-0.5,"scale":{"domain":[-0.61,69.87]},"axis":null},"x2":{"datum":0.1},"y":{"datum":51320,"scale":{"domain":[-710,52740]}},"y2":{"datum":48955}}},
{"data":{"values":[{}]},"mark":{"type":"point","shape":"square","filled":true,"opacity":1,"size":49,"color":"#8080c0"},"encoding":{"x":{"datum":68.94,"scale":{"domain":[-0.61,69.87]},"axis":null},"y":{"datum":49665,"scale":{"domain":[-710,52740]}}}},
{"data":{"values":[{}]},"mark":{"type":"point","shape":"square","filled":true,"opacity":1,"size":49,"color":"#8080c0"},"encoding":{"x":{"datum":69.49,"scale":{"domain":[-0.61,69.87]},"axis":null},"y":{"datum":49665,"scale":{"domain":[-710,52740]}}}},
{"data":{"values":[{}]},"mark":{"type":"text","align":"left","baseline":"middle","font":"DejaVu Sans Mono, Noto Sans CJK KR","fontSize":11,"color":"#002a80","text":"▮거래량"},"encoding":{"x":{"datum":0.32,"scale":{"domain":[-0.61,69.87]},"axis":null},"y":{"datum":48480,"scale":{"domain":[-710,52740]}}}}
]},
{"width":1287,"height":107,"layer":[
{"data":{"name":"d"},"mark":{"type":"area","color":"#00188c","opacity":1},"encoding":{"x":{"field":"i","type":"quantitative","scale":{"domain":[-0.61,69.87],"nice":false,"zero":false},"title":null,"axis":{"orient":"bottom","title":null,"values":[-0.5,5.5,10.5,14.5,18.5,23.5,27.5,31.5,36.5,40.5,45.5,49.5,53.5,58.5,62.5,66.5,68.5],"tickCount":50,"labelExpr":"datum.value < 0 ? '2023/11/20' : datum.value == 5.5 ? '2024/01' : datum.value == 10.5 ? '02' : datum.value == 14.5 ? '03' : datum.value == 18.5 ? '04' : datum.value == 23.5 ? '05' : datum.value == 27.5 ? '06' : datum.value == 31.5 ? '07' : datum.value == 36.5 ? '08' : datum.value == 40.5 ? '09' : datum.value == 45.5 ? '10' : datum.value == 49.5 ? '11' : datum.value == 53.5 ? '12' : datum.value == 58.5 ? '2025/01' : datum.value == 62.5 ? '02' : datum.value == 66.5 ? '03' : '2025/03/17'","tickSize":13,"tickColor":"#505080","labelAlign":"left","labelBaseline":"top","labelPadding":-10,"labelOffset":3,"labelFont":"Noto Sans CJK KR","labelFontSize":12,"labelColor":"#000000","domain":false,"grid":false,"labelFlush":false,"labelOverlap":false,"labelBound":false}},"y":{"field":"wf","type":"quantitative","scale":{"domain":[-101.9,21.6],"nice":false,"zero":false},"title":null,"axis":{"orient":"right","title":null,"values":[0,-20,-40,-60,-80,-100],"tickCount":50,"labelExpr":"replace(format(datum.value, '.2f'), '\u2212', '-')","tickSize":5,"tickColor":"#8080c0","labelAlign":"right","labelPadding":57,"labelFont":"Noto Sans CJK KR","labelFontSize":10.5,"labelColor":"#000000","domain":false,"grid":false,"labelFlush":3,"labelFlushOffset":0,"labelOverlap":false,"labelBound":false,"minExtent":63,"maxExtent":63}},"y2":{"datum":-80}}},
{"data":{"name":"d"},"mark":{"type":"area","color":"#a00000","opacity":1},"encoding":{"x":{"field":"i","type":"quantitative","scale":{"domain":[-0.61,69.87],"nice":false,"zero":false},"title":null},"y":{"field":"wt","type":"quantitative","scale":{"domain":[-101.9,21.6],"nice":false,"zero":false},"title":null},"y2":{"datum":-20}}},
{"data":{"values":[{}]},"mark":{"type":"rule","color":"#d00000","strokeWidth":1.3},"encoding":{"y":{"datum":-20,"scale":{"domain":[-101.9,21.6]}}}},
{"data":{"values":[{}]},"mark":{"type":"rule","color":"#000080","strokeWidth":1.3},"encoding":{"y":{"datum":-80,"scale":{"domain":[-101.9,21.6]}}}},
{"data":{"name":"d"},"mark":{"type":"line","color":"#00a040","strokeWidth":1.3},"encoding":{"x":{"field":"i","type":"quantitative","scale":{"domain":[-0.61,69.87],"nice":false,"zero":false},"title":null},"y":{"field":"wd","type":"quantitative","scale":{"domain":[-101.9,21.6],"nice":false,"zero":false},"title":null}}},
{"data":{"name":"d"},"mark":{"type":"line","color":"#ff4020","strokeWidth":1.3},"encoding":{"x":{"field":"i","type":"quantitative","scale":{"domain":[-0.61,69.87],"nice":false,"zero":false},"title":null},"y":{"field":"wr","type":"quantitative","scale":{"domain":[-101.9,21.6],"nice":false,"zero":false},"title":null}}},
{"data":{"name":"sw"},"mark":{"type":"point","filled":true,"opacity":1,"size":100,"strokeWidth":0,"clip":true},"encoding":{"x":{"field":"i","type":"quantitative","scale":{"domain":[-0.61,69.87],"nice":false,"zero":false},"title":null},"y":{"field":"y","type":"quantitative","scale":{"domain":[-101.9,21.6],"nice":false,"zero":false},"title":null},"shape":{"field":"s","type":"nominal","scale":{"domain":["up","down"],"range":["M0,-1L0.8,-0.15L0.3,-0.15L0.3,1L-0.3,1L-0.3,-0.15L-0.8,-0.15Z","M0,1L0.8,0.15L0.3,0.15L0.3,-1L-0.3,-1L-0.3,0.15L-0.8,0.15Z"]},"legend":null},"color":{"field":"s","type":"nominal","scale":{"domain":["up","down"],"range":["#ff0000","#0000ff"]},"legend":null}}},
{"data":{"name":"swt"},"mark":{"type":"point","shape":"triangle-up","filled":true,"opacity":1,"size":25,"color":"#ff0000","clip":true},"encoding":{"x":{"field":"i","type":"quantitative","scale":{"domain":[-0.61,69.87],"nice":false,"zero":false},"title":null},"y":{"field":"y","type":"quantitative","scale":{"domain":[-101.9,21.6],"nice":false,"zero":false},"title":null}}},
{"data":{"values":[{}]},"mark":{"type":"rect","color":"#8080c0"},"encoding":{"x":{"datum":-0.5,"scale":{"domain":[-0.61,69.87]}},"x2":{"datum":0.1},"y":{"datum":18.1,"scale":{"domain":[-101.9,21.6]}},"y2":{"datum":12.3}}},
{"data":{"values":[{}]},"mark":{"type":"point","shape":"square","filled":true,"opacity":1,"size":49,"color":"#8080c0"},"encoding":{"x":{"datum":68.94,"scale":{"domain":[-0.61,69.87]}},"y":{"datum":13.8,"scale":{"domain":[-101.9,21.6]}}}},
{"data":{"values":[{}]},"mark":{"type":"point","shape":"square","filled":true,"opacity":1,"size":49,"color":"#8080c0"},"encoding":{"x":{"datum":69.49,"scale":{"domain":[-0.61,69.87]}},"y":{"datum":13.8,"scale":{"domain":[-101.9,21.6]}}}},
{"data":{"values":[{}]},"mark":{"type":"text","align":"left","baseline":"middle","font":"DejaVu Sans Mono, Noto Sans CJK KR","fontSize":10,"color":"#ff4020","text":"▮William's %R(14,3)"},"encoding":{"x":{"datum":0.27,"scale":{"domain":[-0.61,69.87]}},"y":{"datum":9.7,"scale":{"domain":[-101.9,21.6]}}}},
{"data":{"values":[{}]},"mark":{"type":"text","align":"left","baseline":"middle","font":"DejaVu Sans Mono, Noto Sans CJK KR","fontSize":10,"color":"#00a040","text":"▮%D"},"encoding":{"x":{"datum":6.84,"scale":{"domain":[-0.61,69.87]}},"y":{"datum":9.7,"scale":{"domain":[-101.9,21.6]}}}}
]}
]},
{"spacing":0,"bounds":"flush","vconcat":[
{"width":456,"height":187,"layer":[
{"data":{"name":"d"},"mark":{"type":"area","color":"#00188c","opacity":1},"encoding":{"x":{"field":"i","type":"quantitative","scale":{"domain":[-0.5,70.25],"nice":false,"zero":false},"axis":null},"y":{"field":"rf","type":"quantitative","scale":{"domain":[-0.78,111.5],"nice":false,"zero":false},"title":null,"axis":{"orient":"right","title":null,"values":[0,20,40,60,80,100],"tickCount":50,"labelExpr":"format(datum.value, '.2f')","tickSize":5,"tickColor":"#8080c0","labelAlign":"right","labelPadding":51,"labelFont":"Noto Sans CJK KR","labelFontSize":13,"labelColor":"#000000","domain":false,"grid":false,"labelFlush":3,"labelFlushOffset":2,"labelOverlap":false,"labelBound":false,"minExtent":61,"maxExtent":61}},"y2":{"datum":30}}},
{"data":{"name":"d"},"mark":{"type":"area","color":"#a00000","opacity":1},"encoding":{"x":{"field":"i","type":"quantitative","scale":{"domain":[-0.5,70.25],"nice":false,"zero":false},"axis":null},"y":{"field":"rt","type":"quantitative","scale":{"domain":[-0.78,111.5],"nice":false,"zero":false},"title":null},"y2":{"datum":70}}},
{"data":{"values":[{}]},"mark":{"type":"rule","color":"#c00000","strokeWidth":1.3},"encoding":{"y":{"datum":70,"scale":{"domain":[-0.78,111.5]}}}},
{"data":{"values":[{}]},"mark":{"type":"rule","color":"#000080","strokeWidth":1.3},"encoding":{"y":{"datum":30,"scale":{"domain":[-0.78,111.5]}}}},
{"data":{"name":"d"},"mark":{"type":"line","color":"#30c0d0","strokeWidth":1.3},"encoding":{"x":{"field":"i","type":"quantitative","scale":{"domain":[-0.5,70.25],"nice":false,"zero":false},"axis":null},"y":{"field":"rs","type":"quantitative","scale":{"domain":[-0.78,111.5],"nice":false,"zero":false},"title":null}}},
{"data":{"name":"d"},"mark":{"type":"line","color":"#ff4020","strokeWidth":1.3},"encoding":{"x":{"field":"i","type":"quantitative","scale":{"domain":[-0.5,70.25],"nice":false,"zero":false},"axis":null},"y":{"field":"rsi","type":"quantitative","scale":{"domain":[-0.78,111.5],"nice":false,"zero":false},"title":null}}},
{"data":{"name":"sr"},"mark":{"type":"point","filled":true,"opacity":1,"size":100,"strokeWidth":0,"clip":true},"encoding":{"x":{"field":"i","type":"quantitative","scale":{"domain":[-0.5,70.25],"nice":false,"zero":false},"axis":null},"y":{"field":"y","type":"quantitative","scale":{"domain":[-0.78,111.5],"nice":false,"zero":false},"title":null},"shape":{"field":"s","type":"nominal","scale":{"domain":["up","down"],"range":["M0,-1L0.8,-0.15L0.3,-0.15L0.3,1L-0.3,1L-0.3,-0.15L-0.8,-0.15Z","M0,1L0.8,0.15L0.3,0.15L0.3,-1L-0.3,-1L-0.3,0.15L-0.8,0.15Z"]},"legend":null},"color":{"field":"s","type":"nominal","scale":{"domain":["up","down"],"range":["#ff0000","#0000ff"]},"legend":null}}},
{"data":{"values":[{}]},"mark":{"type":"rect","color":"#8080c0"},"encoding":{"x":{"datum":-0.03,"scale":{"domain":[-0.5,70.25]},"axis":null},"x2":{"datum":1.52},"y":{"datum":109.7,"scale":{"domain":[-0.78,111.5]}},"y2":{"datum":106.7}}},
{"data":{"values":[{}]},"mark":{"type":"point","shape":"square","filled":true,"opacity":1,"size":49,"color":"#8080c0"},"encoding":{"x":{"datum":67.8,"scale":{"domain":[-0.5,70.25]},"axis":null},"y":{"datum":107.3,"scale":{"domain":[-0.78,111.5]}}}},
{"data":{"values":[{}]},"mark":{"type":"point","shape":"square","filled":true,"opacity":1,"size":49,"color":"#8080c0"},"encoding":{"x":{"datum":69.35,"scale":{"domain":[-0.5,70.25]},"axis":null},"y":{"datum":107.3,"scale":{"domain":[-0.78,111.5]}}}},
{"data":{"values":[{}]},"mark":{"type":"text","align":"left","baseline":"middle","font":"DejaVu Sans Mono","fontSize":10.5,"color":"#ff4020","text":"▮RSI(14,9)"},"encoding":{"x":{"datum":1.83,"scale":{"domain":[-0.5,70.25]},"axis":null},"y":{"datum":105.1,"scale":{"domain":[-0.78,111.5]}}}},
{"data":{"values":[{}]},"mark":{"type":"text","align":"left","baseline":"middle","font":"DejaVu Sans Mono","fontSize":10.5,"color":"#30c0d0","text":"▮Signal"},"encoding":{"x":{"datum":12.23,"scale":{"domain":[-0.5,70.25]},"axis":null},"y":{"datum":105.1,"scale":{"domain":[-0.78,111.5]}}}}
]},
{"width":456,"height":186,"layer":[
{"data":{"values":[{}]},"mark":{"type":"rule","color":"#808080","strokeWidth":1.3},"encoding":{"y":{"datum":0,"scale":{"domain":[-2846,1257]}}}},
{"data":{"name":"d"},"mark":{"type":"line","color":"#30c0d0","strokeWidth":1.3},"encoding":{"x":{"field":"i","type":"quantitative","scale":{"domain":[-0.5,70.25],"nice":false,"zero":false},"axis":null},"y":{"field":"ms","type":"quantitative","scale":{"domain":[-2846,1257],"nice":false,"zero":false},"title":null,"axis":{"orient":"right","title":null,"values":[-2400,-1800,-1200,-600,0,600],"tickCount":50,"labelExpr":"replace(format(datum.value, ','), '\u2212', '-')","tickSize":5,"tickColor":"#8080c0","labelAlign":"right","labelPadding":51,"labelFont":"Noto Sans CJK KR","labelFontSize":13,"labelColor":"#000000","domain":false,"grid":false,"labelFlush":3,"labelFlushOffset":2,"labelOverlap":false,"labelBound":false,"minExtent":61,"maxExtent":61}}}},
{"data":{"name":"d"},"mark":{"type":"line","color":"#ff4020","strokeWidth":1.3},"encoding":{"x":{"field":"i","type":"quantitative","scale":{"domain":[-0.5,70.25],"nice":false,"zero":false},"axis":null},"y":{"field":"macd","type":"quantitative","scale":{"domain":[-2846,1257],"nice":false,"zero":false},"title":null}}},
{"data":{"name":"sm"},"mark":{"type":"point","filled":true,"opacity":1,"size":100,"strokeWidth":0,"clip":true},"encoding":{"x":{"field":"i","type":"quantitative","scale":{"domain":[-0.5,70.25],"nice":false,"zero":false},"axis":null},"y":{"field":"y","type":"quantitative","scale":{"domain":[-2846,1257],"nice":false,"zero":false},"title":null},"shape":{"field":"s","type":"nominal","scale":{"domain":["up","down"],"range":["M0,-1L0.8,-0.15L0.3,-0.15L0.3,1L-0.3,1L-0.3,-0.15L-0.8,-0.15Z","M0,1L0.8,0.15L0.3,0.15L0.3,-1L-0.3,-1L-0.3,0.15L-0.8,0.15Z"]},"legend":null},"color":{"field":"s","type":"nominal","scale":{"domain":["up","down"],"range":["#ff0000","#0000ff"]},"legend":null}}},
{"data":{"values":[{}]},"mark":{"type":"rect","color":"#8080c0"},"encoding":{"x":{"datum":-0.03,"scale":{"domain":[-0.5,70.25]},"axis":null},"x2":{"datum":1.52},"y":{"datum":1191,"scale":{"domain":[-2846,1257]}},"y2":{"datum":1081}}},
{"data":{"values":[{}]},"mark":{"type":"point","shape":"square","filled":true,"opacity":1,"size":49,"color":"#8080c0"},"encoding":{"x":{"datum":67.8,"scale":{"domain":[-0.5,70.25]},"axis":null},"y":{"datum":1103,"scale":{"domain":[-2846,1257]}}}},
{"data":{"values":[{}]},"mark":{"type":"point","shape":"square","filled":true,"opacity":1,"size":49,"color":"#8080c0"},"encoding":{"x":{"datum":69.35,"scale":{"domain":[-0.5,70.25]},"axis":null},"y":{"datum":1103,"scale":{"domain":[-2846,1257]}}}},
{"data":{"values":[{}]},"mark":{"type":"text","align":"left","baseline":"middle","font":"DejaVu Sans Mono","fontSize":10.5,"color":"#ff4020","text":"▮MACD(12,26,9)"},"encoding":{"x":{"datum":1.83,"scale":{"domain":[-0.5,70.25]},"axis":null},"y":{"datum":1030,"scale":{"domain":[-2846,1257]}}}},
{"data":{"values":[{}]},"mark":{"type":"text","align":"left","baseline":"middle","font":"DejaVu Sans Mono","fontSize":10.5,"color":"#30c0d0","text":"▮Signal"},"encoding":{"x":{"datum":16.11,"scale":{"domain":[-0.5,70.25]},"axis":null},"y":{"datum":1030,"scale":{"domain":[-2846,1257]}}}}
]},
{"width":456,"height":187,"layer":[
{"data":{"name":"d"},"mark":{"type":"line","color":"#30c0d0","strokeWidth":1.3},"encoding":{"x":{"field":"i","type":"quantitative","scale":{"domain":[-0.5,70.25],"nice":false,"zero":false},"axis":null},"y":{"field":"os","type":"quantitative","scale":{"domain":[-53440,138700],"nice":false,"zero":false},"title":null,"axis":{"orient":"right","title":null,"values":[-30000,0,30000,60000,90000],"tickCount":50,"labelExpr":"replace(format(datum.value, ','), '\u2212', '-') + 'K'","tickSize":5,"tickColor":"#8080c0","labelAlign":"right","labelPadding":51,"labelFont":"Noto Sans CJK KR","labelFontSize":13,"labelColor":"#000000","domain":false,"grid":false,"labelFlush":3,"labelFlushOffset":2,"labelOverlap":false,"labelBound":false,"minExtent":61,"maxExtent":61}}}},
{"data":{"name":"d"},"mark":{"type":"line","color":"#ff4020","strokeWidth":1.3},"encoding":{"x":{"field":"i","type":"quantitative","scale":{"domain":[-0.5,70.25],"nice":false,"zero":false},"axis":null},"y":{"field":"obv","type":"quantitative","scale":{"domain":[-53440,138700],"nice":false,"zero":false},"title":null}}},
{"data":{"name":"so"},"mark":{"type":"point","filled":true,"opacity":1,"size":100,"strokeWidth":0,"clip":true},"encoding":{"x":{"field":"i","type":"quantitative","scale":{"domain":[-0.5,70.25],"nice":false,"zero":false},"axis":null},"y":{"field":"y","type":"quantitative","scale":{"domain":[-53440,138700],"nice":false,"zero":false},"title":null},"shape":{"field":"s","type":"nominal","scale":{"domain":["up","down"],"range":["M0,-1L0.8,-0.15L0.3,-0.15L0.3,1L-0.3,1L-0.3,-0.15L-0.8,-0.15Z","M0,1L0.8,0.15L0.3,0.15L0.3,-1L-0.3,-1L-0.3,0.15L-0.8,0.15Z"]},"legend":null},"color":{"field":"s","type":"nominal","scale":{"domain":["up","down"],"range":["#ff0000","#0000ff"]},"legend":null}}},
{"data":{"values":[{}]},"mark":{"type":"rect","color":"#8080c0"},"encoding":{"x":{"datum":-0.03,"scale":{"domain":[-0.5,70.25]},"axis":null},"x2":{"datum":1.52},"y":{"datum":135660,"scale":{"domain":[-53440,138700]}},"y2":{"datum":130520}}},
{"data":{"values":[{}]},"mark":{"type":"point","shape":"square","filled":true,"opacity":1,"size":49,"color":"#8080c0"},"encoding":{"x":{"datum":67.8,"scale":{"domain":[-0.5,70.25]},"axis":null},"y":{"datum":131550,"scale":{"domain":[-53440,138700]}}}},
{"data":{"values":[{}]},"mark":{"type":"point","shape":"square","filled":true,"opacity":1,"size":49,"color":"#8080c0"},"encoding":{"x":{"datum":69.35,"scale":{"domain":[-0.5,70.25]},"axis":null},"y":{"datum":131550,"scale":{"domain":[-53440,138700]}}}},
{"data":{"values":[{}]},"mark":{"type":"text","align":"left","baseline":"middle","font":"DejaVu Sans Mono","fontSize":10.5,"color":"#ff4020","text":"▮OBV(9)"},"encoding":{"x":{"datum":1.83,"scale":{"domain":[-0.5,70.25]},"axis":null},"y":{"datum":128160,"scale":{"domain":[-53440,138700]}}}},
{"data":{"values":[{}]},"mark":{"type":"text","align":"left","baseline":"middle","font":"DejaVu Sans Mono","fontSize":10.5,"color":"#30c0d0","text":"▮Signal"},"encoding":{"x":{"datum":9.43,"scale":{"domain":[-0.5,70.25]},"axis":null},"y":{"datum":128160,"scale":{"domain":[-53440,138700]}}}}
]},
{"width":456,"height":186,"layer":[
{"data":{"values":[{}]},"mark":{"type":"rule","color":"#808080","strokeWidth":1.3},"encoding":{"y":{"datum":0,"scale":{"domain":[-11663,7316]}}}},
{"data":{"name":"d"},"mark":{"type":"line","color":"#30c0d0","strokeWidth":1.3},"encoding":{"x":{"field":"i","type":"quantitative","scale":{"domain":[-0.5,70.25],"nice":false,"zero":false},"title":null,"axis":{"orient":"bottom","title":null,"values":[-0.5,23.5,40.5,58.5,68.5],"tickCount":50,"labelExpr":"datum.value < 0 ? '2023/11/20' : datum.value == 23.5 ? '05' : datum.value == 40.5 ? '09' : datum.value == 58.5 ? '2025/01' : '2025/03/17'","tickSize":13,"tickColor":"#505080","labelAlign":"left","labelBaseline":"top","labelPadding":-10,"labelOffset":3,"labelFont":"Noto Sans CJK KR","labelFontSize":12,"labelColor":"#000000","domain":false,"grid":false,"labelFlush":false,"labelOverlap":false,"labelBound":false}},"y":{"field":"mos","type":"quantitative","scale":{"domain":[-11663,7316],"nice":false,"zero":false},"title":null,"axis":{"orient":"right","title":null,"values":[-9000,-6000,-3000,0,3000],"tickCount":50,"labelExpr":"replace(format(datum.value, ','), '\u2212', '-')","tickSize":5,"tickColor":"#8080c0","labelAlign":"right","labelPadding":51,"labelFont":"Noto Sans CJK KR","labelFontSize":13,"labelColor":"#000000","domain":false,"grid":false,"labelFlush":3,"labelFlushOffset":2,"labelOverlap":false,"labelBound":false,"minExtent":61,"maxExtent":61}}}},
{"data":{"name":"d"},"mark":{"type":"line","color":"#ff4020","strokeWidth":1.3,"clip":true},"encoding":{"x":{"field":"i","type":"quantitative","scale":{"domain":[-0.5,70.25],"nice":false,"zero":false},"title":null},"y":{"field":"mom","type":"quantitative","scale":{"domain":[-11663,7316],"nice":false,"zero":false},"title":null}}},
{"data":{"name":"sn"},"mark":{"type":"point","filled":true,"opacity":1,"size":100,"strokeWidth":0,"clip":true},"encoding":{"x":{"field":"i","type":"quantitative","scale":{"domain":[-0.5,70.25],"nice":false,"zero":false},"title":null},"y":{"field":"y","type":"quantitative","scale":{"domain":[-11663,7316],"nice":false,"zero":false},"title":null},"shape":{"field":"s","type":"nominal","scale":{"domain":["up","down"],"range":["M0,-1L0.8,-0.15L0.3,-0.15L0.3,1L-0.3,1L-0.3,-0.15L-0.8,-0.15Z","M0,1L0.8,0.15L0.3,0.15L0.3,-1L-0.3,-1L-0.3,0.15L-0.8,0.15Z"]},"legend":null},"color":{"field":"s","type":"nominal","scale":{"domain":["up","down"],"range":["#ff0000","#0000ff"]},"legend":null}}},
{"data":{"values":[{}]},"mark":{"type":"rect","color":"#8080c0"},"encoding":{"x":{"datum":-0.03,"scale":{"domain":[-0.5,70.25]}},"x2":{"datum":1.52},"y":{"datum":7010,"scale":{"domain":[-11663,7316]}},"y2":{"datum":6500}}},
{"data":{"values":[{}]},"mark":{"type":"point","shape":"square","filled":true,"opacity":1,"size":49,"color":"#8080c0"},"encoding":{"x":{"datum":67.8,"scale":{"domain":[-0.5,70.25]}},"y":{"datum":6602,"scale":{"domain":[-11663,7316]}}}},
{"data":{"values":[{}]},"mark":{"type":"point","shape":"square","filled":true,"opacity":1,"size":49,"color":"#8080c0"},"encoding":{"x":{"datum":69.35,"scale":{"domain":[-0.5,70.25]}},"y":{"datum":6602,"scale":{"domain":[-11663,7316]}}}},
{"data":{"values":[{}]},"mark":{"type":"text","align":"left","baseline":"middle","font":"DejaVu Sans Mono","fontSize":10.5,"color":"#ff4020","text":"▮Momentum(14,9)"},"encoding":{"x":{"datum":1.83,"scale":{"domain":[-0.5,70.25]}},"y":{"datum":6224,"scale":{"domain":[-11663,7316]}}}},
{"data":{"values":[{}]},"mark":{"type":"text","align":"left","baseline":"middle","font":"DejaVu Sans Mono","fontSize":10.5,"color":"#30c0d0","text":"▮Signal"},"encoding":{"x":{"datum":16.89,"scale":{"domain":[-0.5,70.25]}},"y":{"datum":6224,"scale":{"domain":[-11663,7316]}}}}
]}
]}
]
}
